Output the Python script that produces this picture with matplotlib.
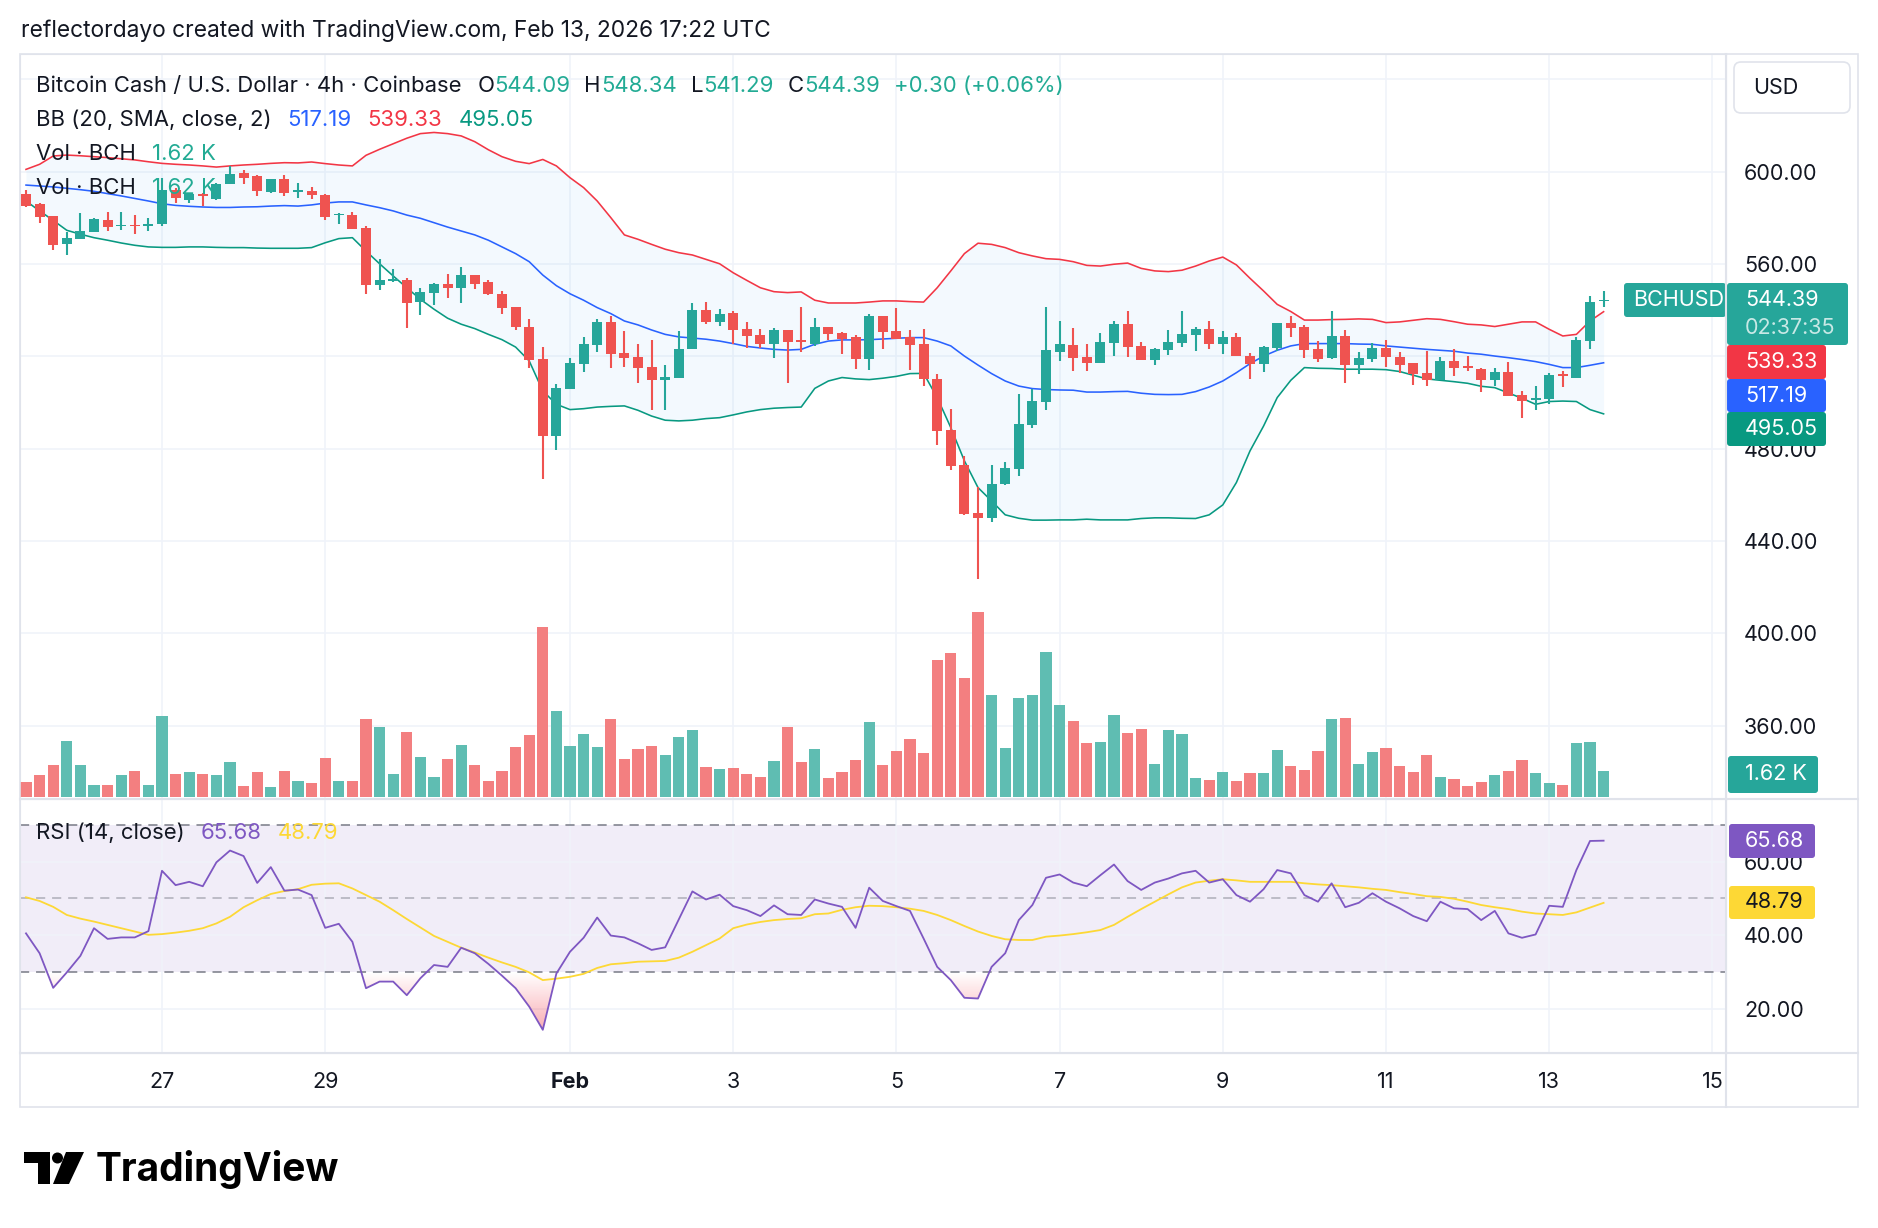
import numpy as np
import matplotlib.pyplot as plt
from matplotlib.patches import FancyBboxPatch, Polygon, Circle, Rectangle
from matplotlib.path import Path
from matplotlib.colors import to_rgb

plt.rcParams['font.family'] = ['Inter', 'DejaVu Sans']

# ---- data (4h candles, Jan 25 08:00 -> Feb 13 16:00) ----
opens = [590.2, 586.1, 580.8, 568.5, 571.0, 574.0, 579.2, 576.5, 577.0, 576.3,
         577.5, 591.9, 587.6, 590.2, 588.0, 594.5, 599.6, 598.1, 591.3, 596.7,
         591.3, 591.6, 589.9, 581.1, 581.2, 575.7, 550.9, 552.6, 552.9, 543.7,
         547.6, 551.5, 549.7, 555.2, 552.2, 547.0, 541.4, 532.7, 518.7, 485.6,
         505.7, 516.8, 525.1, 534.9, 521.4, 519.7, 515.4, 509.6, 510.8, 523.0,
         540.1, 535.0, 538.8, 531.8, 529.1, 525.5, 531.4, 527.1, 525.2, 532.7,
         530.1, 528.4, 519.0, 537.5, 530.8, 528.4, 525.5, 510.3, 488.0, 472.9,
         452.1, 450.1, 464.8, 471.3, 490.2, 500.2, 522.0, 524.9, 519.7, 517.3,
         525.9, 534.0, 524.5, 518.4, 522.7, 525.9, 529.2, 532.0, 525.5, 528.4,
         520.1, 516.8, 523.5, 534.6, 532.7, 523.3, 519.1, 528.8, 516.2, 519.0,
         523.6, 519.7, 517.1, 512.8, 509.6, 518.0, 515.8, 514.4, 509.9, 513.2,
         503.2, 500.9, 501.7, 512.2, 510.8, 526.6, 544.09]
highs = [591.9, 586.4, 580.8, 574.0, 582.1, 579.8, 582.4, 582.4, 581.2, 579.8,
         597.4, 593.1, 590.9, 590.9, 595.2, 602.5, 600.6, 598.4, 597.0, 598.6,
         594.9, 593.4, 590.5, 582.2, 582.5, 576.3, 562.0, 557.8, 554.1, 549.6,
         551.9, 555.7, 558.7, 555.2, 552.9, 548.2, 541.4, 536.0, 524.0, 507.9,
         519.1, 528.4, 536.0, 537.5, 531.0, 525.5, 527.1, 516.2, 531.0, 543.1,
         543.5, 540.5, 539.6, 534.9, 532.0, 532.3, 531.4, 541.5, 536.6, 532.7,
         530.5, 529.2, 538.2, 537.5, 541.1, 531.4, 531.7, 512.2, 497.2, 476.8,
         463.4, 472.9, 474.2, 503.5, 505.7, 541.4, 535.3, 532.1, 525.5, 530.1,
         535.3, 539.6, 526.2, 523.8, 531.4, 539.6, 532.7, 535.3, 531.0, 530.0,
         521.4, 524.5, 534.6, 537.5, 533.6, 526.6, 539.6, 531.4, 521.9, 525.6,
         526.9, 521.9, 517.1, 522.3, 519.7, 523.0, 520.1, 515.1, 515.1, 517.5,
         505.0, 507.1, 512.9, 513.6, 528.4, 546.1, 548.34]
lows = [584.7, 577.9, 566.2, 563.8, 570.7, 574.0, 574.3, 574.6, 573.1, 574.3,
        576.5, 586.6, 586.6, 585.1, 587.6, 594.5, 594.8, 589.5, 590.9, 589.5,
        588.7, 588.3, 579.1, 577.5, 575.3, 547.1, 548.7, 552.3, 532.3, 538.1,
        542.2, 545.4, 543.2, 549.3, 546.6, 538.5, 531.6, 515.1, 467.0, 479.6,
        505.7, 513.4, 522.0, 515.1, 515.4, 508.6, 496.9, 496.9, 510.8, 523.0,
        533.9, 533.3, 525.5, 523.8, 523.5, 519.4, 508.6, 521.9, 524.5, 526.9,
        520.9, 514.7, 513.9, 523.3, 527.7, 513.9, 507.1, 481.6, 470.8, 451.3,
        423.7, 448.4, 464.3, 468.2, 489.1, 496.9, 518.0, 513.6, 513.6, 517.3,
        520.1, 519.7, 518.4, 516.2, 520.6, 524.2, 522.3, 523.0, 521.2, 520.1,
        510.3, 513.4, 522.3, 528.4, 519.4, 517.7, 518.7, 508.6, 512.5, 517.7,
        515.4, 512.9, 507.6, 507.1, 509.6, 511.5, 513.6, 504.7, 507.1, 503.0,
        493.1, 496.6, 499.2, 506.7, 510.8, 523.3, 541.29]
closes = [585.1, 580.4, 568.2, 571.1, 574.3, 579.3, 576.2, 577.0, 576.5, 577.5,
          591.9, 588.4, 590.2, 589.5, 594.8, 598.8, 597.4, 591.6, 596.7, 590.6,
          591.9, 589.9, 580.4, 581.8, 575.3, 550.9, 552.9, 553.6, 543.2, 547.9,
          551.5, 549.7, 555.2, 551.5, 547.1, 541.1, 532.9, 518.6, 485.6, 506.1,
          517.1, 525.3, 534.9, 521.2, 519.4, 515.1, 509.6, 511.0, 523.2, 540.1,
          535.0, 538.3, 531.6, 528.8, 525.5, 531.4, 526.4, 526.4, 532.7, 529.8,
          527.7, 519.0, 537.5, 530.7, 527.7, 524.9, 510.3, 487.7, 472.5, 451.6,
          450.1, 464.5, 471.5, 490.5, 500.6, 522.6, 525.2, 519.4, 517.3, 526.2,
          534.0, 524.0, 518.4, 523.2, 526.2, 529.8, 532.0, 525.5, 528.4, 520.1,
          516.8, 524.0, 534.6, 532.4, 522.7, 518.7, 528.8, 516.2, 519.1, 523.6,
          519.7, 516.2, 512.2, 509.9, 518.0, 515.1, 515.1, 509.9, 513.2, 503.0,
          500.8, 501.8, 511.9, 511.5, 527.1, 543.5, 544.39]
# volume, thousands of BCH
volumes = [0.93, 1.37, 1.99, 3.49, 1.99, 0.75, 0.75, 1.37, 1.62, 0.75,
           5.05, 1.43, 1.56, 1.43, 1.37, 2.18, 0.69, 1.56, 0.62, 1.62,
           1.00, 0.87, 2.43, 1.00, 1.00, 4.86, 4.36, 1.43, 4.05, 2.49,
           1.25, 2.37, 3.24, 1.99, 1.00, 1.62, 3.12, 3.86, 10.59, 5.36,
           3.18, 3.93, 3.12, 4.86, 2.37, 2.99, 3.18, 2.62, 3.74, 4.17,
           1.87, 1.74, 1.81, 1.43, 1.25, 2.24, 4.36, 2.18, 2.99, 1.18,
           1.56, 2.31, 4.67, 1.99, 2.87, 3.61, 2.74, 8.54, 8.97, 7.41,
           11.53, 6.36, 3.05, 6.17, 6.36, 9.03, 5.73, 4.74, 3.36, 3.43,
           5.11, 3.99, 4.24, 2.06, 4.17, 3.93, 1.18, 1.06, 1.56, 1.00,
           1.50, 1.50, 2.93, 1.93, 1.68, 2.87, 4.86, 4.92, 2.06, 2.80,
           3.05, 1.93, 1.56, 2.62, 1.25, 1.12, 0.69, 0.93, 1.37, 1.62,
           2.31, 1.50, 0.87, 0.75, 3.36, 3.43, 1.62]
bb_upper = [601.0, 603.2, 606.8, 607.2, 606.9, 606.5, 606.1, 605.6, 605.1, 604.3,
            603.6, 603.2, 602.9, 602.5, 602.0, 602.5, 602.9, 603.2, 603.6, 603.9,
            603.8, 604.2, 603.5, 602.9, 602.5, 607.1, 609.7, 612.1, 614.5, 616.5,
            617.0, 616.5, 615.5, 613.0, 609.5, 606.5, 604.5, 603.5, 605.3, 602.5,
            597.4, 593.1, 587.3, 580.1, 572.6, 570.7, 568.5, 566.4, 564.9, 563.9,
            562.0, 560.1, 556.2, 552.9, 549.7, 548.0, 547.6, 547.9, 544.3, 543.1,
            543.1, 543.1, 543.5, 544.0, 544.0, 543.7, 543.5, 549.7, 557.0, 564.5,
            569.0, 568.5, 567.1, 564.9, 563.5, 562.3, 562.0, 561.0, 559.4, 559.1,
            559.9, 560.4, 558.1, 557.0, 556.7, 557.3, 559.1, 561.3, 563.0, 559.6,
            553.8, 548.3, 542.5, 539.4, 535.7, 535.7, 535.9, 536.0, 536.2, 536.0,
            534.6, 534.9, 535.6, 536.3, 536.0, 535.0, 533.9, 533.6, 532.9, 533.9,
            534.9, 534.9, 531.7, 528.8, 529.5, 535.3, 539.33]
bb_mid = [594.2, 593.8, 593.4, 592.8, 592.2, 591.5, 590.5, 589.5, 588.4, 587.3,
          586.1, 585.4, 585.0, 584.7, 584.5, 584.5, 584.7, 584.8, 585.1, 585.3,
          585.1, 585.6, 586.4, 586.9, 586.9, 585.6, 584.4, 583.0, 581.2, 579.8,
          577.9, 576.0, 574.3, 572.6, 570.3, 567.4, 564.5, 561.0, 555.2, 550.6,
          547.1, 544.3, 541.1, 538.5, 535.3, 533.6, 531.4, 529.5, 528.4, 527.9,
          527.4, 526.6, 525.5, 524.3, 523.6, 523.0, 522.7, 523.0, 525.2, 526.6,
          527.1, 527.1, 527.2, 527.5, 527.8, 528.1, 528.1, 526.6, 524.5, 520.1,
          516.2, 512.5, 509.3, 507.1, 506.0, 505.6, 505.4, 505.3, 504.5, 504.5,
          504.7, 504.8, 504.0, 503.5, 503.4, 503.5, 504.7, 506.7, 509.3, 512.9,
          516.8, 520.1, 522.6, 524.5, 525.5, 525.5, 525.5, 525.5, 525.3, 525.2,
          524.5, 524.0, 523.5, 523.0, 522.6, 522.2, 521.4, 520.9, 520.1, 519.4,
          518.6, 517.7, 516.5, 515.1, 515.1, 516.1, 517.19]
bb_lower = [587.3, 583.0, 578.9, 574.6, 572.9, 571.4, 570.3, 569.1, 568.1, 567.4,
            567.2, 567.2, 567.4, 567.4, 567.2, 567.1, 567.1, 566.9, 566.8, 566.8,
            566.8, 567.1, 569.2, 571.0, 571.4, 565.6, 560.1, 554.8, 549.7, 544.7,
            540.4, 536.5, 533.9, 532.0, 529.5, 527.2, 524.0, 518.0, 505.0, 499.2,
            496.9, 497.3, 498.0, 498.3, 498.5, 496.6, 494.1, 492.3, 492.0, 492.3,
            493.0, 493.4, 494.6, 495.9, 496.9, 497.5, 497.8, 498.0, 506.1, 509.3,
            510.8, 510.2, 509.9, 510.5, 511.3, 512.5, 512.6, 502.1, 489.1, 474.7,
            463.1, 457.3, 451.3, 449.8, 449.0, 449.0, 449.1, 449.1, 449.4, 449.1,
            449.1, 449.1, 449.7, 450.0, 450.0, 449.8, 449.7, 451.3, 455.6, 465.3,
            479.0, 489.8, 502.1, 509.6, 515.1, 514.8, 514.7, 514.4, 514.4, 514.4,
            514.2, 513.4, 511.8, 510.2, 509.6, 509.0, 508.3, 507.0, 506.4, 504.1,
            501.8, 499.2, 500.4, 500.6, 500.4, 496.9, 495.05]
rsi = [40.5, 35.1, 25.7, 29.9, 34.4, 41.9, 39.0, 39.4, 39.4, 41.1,
       57.5, 53.6, 54.5, 53.3, 59.8, 63.0, 61.5, 54.2, 58.5, 52.1,
       52.4, 50.9, 42.0, 43.1, 38.2, 25.6, 27.4, 27.4, 23.7, 28.3,
       31.9, 31.4, 36.6, 35.1, 32.2, 29.0, 25.6, 20.6, 14.3, 29.6,
       35.5, 39.3, 44.8, 39.9, 39.4, 37.8, 36.0, 36.7, 44.3, 51.9,
       49.7, 51.0, 47.9, 46.8, 45.2, 48.1, 45.7, 45.5, 49.7, 48.6,
       47.7, 42.0, 52.9, 49.3, 47.9, 46.6, 39.1, 31.4, 27.8, 23.0,
       22.8, 31.4, 35.1, 44.1, 48.2, 55.6, 56.5, 54.3, 53.3, 56.3,
       59.2, 54.7, 52.3, 54.3, 55.4, 56.8, 57.5, 54.3, 55.2, 50.9,
       49.1, 52.5, 57.7, 56.8, 50.9, 49.1, 54.1, 47.6, 48.8, 51.4,
       49.1, 47.3, 45.2, 43.8, 49.1, 47.3, 47.1, 44.1, 46.6, 40.5,
       39.3, 40.2, 48.0, 47.7, 57.7, 65.6, 65.68]
rsi_ma = [50.3, 49.3, 47.7, 45.5, 44.5, 43.7, 42.8, 41.9, 41.0, 40.1,
          40.3, 40.7, 41.2, 41.9, 43.2, 45.0, 47.6, 49.5, 51.2, 52.0,
          52.5, 53.7, 54.0, 54.1, 52.7, 50.9, 49.1, 46.8, 44.4, 42.1,
          39.8, 38.2, 36.6, 35.3, 33.9, 32.6, 31.4, 29.9, 27.8, 28.2,
          28.7, 29.5, 31.1, 32.1, 32.4, 32.8, 32.9, 33.0, 33.9, 35.5,
          37.3, 39.1, 41.9, 42.9, 43.6, 44.1, 44.4, 44.6, 45.7, 45.9,
          46.9, 47.6, 48.0, 47.9, 47.6, 47.2, 46.6, 45.5, 44.1, 42.5,
          41.0, 39.8, 38.9, 38.7, 38.7, 39.6, 39.9, 40.3, 40.8, 41.4,
          42.8, 45.0, 47.1, 49.1, 51.1, 53.0, 54.3, 54.8, 55.2, 54.9,
          54.5, 54.5, 54.5, 54.5, 54.1, 53.8, 53.6, 53.3, 53.0, 52.6,
          52.3, 51.7, 51.2, 50.6, 50.4, 49.9, 49.1, 48.2, 47.6, 47.1,
          46.4, 45.9, 45.7, 45.5, 46.2, 47.5, 48.79]
day_pos = [10, 22, 40, 52, 64, 76, 88, 100, 112, 124]
day_labels = ['27', '29', 'Feb', '3', '5', '7', '9', '11', '13', '15']
price_ticks = [360, 400, 440, 480, 520, 560, 600, 640]
rsi_ticks = [20, 40, 60]

W, H = 1878, 1228
DARK = '#131722'
GRID = '#F0F3FA'
BORDER = '#E0E3EB'
UP, DOWN = '#26A69A', '#EF5350'
FS = 15.5     # axis labels
FL = 15.9     # legend lines
FH = 16.4     # header line

o = np.array(opens); c = np.array(closes)
hi = np.array(highs); lo = np.array(lows)
rs = np.array(rsi)
idx = np.arange(len(closes))
up = c >= o

fig = plt.figure(figsize=(W / 100, H / 100), dpi=100)
fig.patch.set_facecolor('white')


def rect(top, bottom, left=20, right=1726):
    return [left / W, 1 - bottom / H, (right - left) / W, (bottom - top) / H]


ax = fig.add_axes(rect(54, 799))
ax_rsi = fig.add_axes(rect(799, 1053), sharex=ax)
ax_vol = ax.twinx()

# price pane
ax.fill_between(idx, bb_upper, bb_lower, color='#2196F3', alpha=0.05, lw=0, zorder=1)
ax.plot(idx, bb_upper, color='#F23645', lw=1.15, zorder=2)
ax.plot(idx, bb_mid, color='#2962FF', lw=1.15, zorder=2)
ax.plot(idx, bb_lower, color='#089981', lw=1.15, zorder=2)
ccol = np.where(up, UP, DOWN)
ax.vlines(idx, lo, hi, colors=ccol, lw=1.5, zorder=3)
ax.bar(idx, np.maximum(np.abs(c - o), 0.5), bottom=np.minimum(o, c), width=0.73,
       color=ccol, zorder=4)
ax.set_ylim(328.15, 651.0)
ax.set_xlim(-0.441, 125.0)
ax.set_yticks(price_ticks)
ax.set_yticklabels(['%.2f' % v if v < 640 else '' for v in price_ticks])
ax.grid(True, color=GRID, lw=1.2)
ax.set_axisbelow(True)

# volume overlay
vcol = np.where(up, '#5FBDB2', '#F37F80')
ax_vol.bar(idx, volumes, width=0.82, color=vcol, zorder=1)
ax_vol.set_ylim(-0.125, 46.32)
ax_vol.set_yticks([])
for s in ax_vol.spines.values():
    s.set_visible(False)

ax.yaxis.tick_right()
ax.tick_params(axis='y', length=0, pad=13, labelsize=FS, labelcolor=DARK)
ax.set_xticks(day_pos)
ax.tick_params(axis='x', length=0, labelbottom=False)
for s in ax.spines.values():
    s.set_color(BORDER)

# RSI pane
ax_rsi.axhspan(30, 70, color='#7E57C2', alpha=0.1, lw=0, zorder=0)
for lvl, a in [(70, 1.0), (50, 0.55), (30, 1.0)]:
    ax_rsi.axhline(lvl, color='#787B86', alpha=a, lw=1.1, dashes=(6, 4.5), zorder=1)
fb = ax_rsi.fill_between(idx, rs, 30, where=rs < 30, interpolate=True,
                         color='none', lw=0)
clip = Path.make_compound_path(*fb.get_paths())
n = 256
grad = np.zeros((n, 1, 4))
grad[..., :3] = to_rgb('#F23645')
rr = 30 - 22 * np.arange(n) / (n - 1)
grad[:, 0, 3] = np.clip((30 - rr) / 16 * 0.42, 0, 0.5)
im = ax_rsi.imshow(grad, extent=(-1, 126, 8, 30), aspect='auto', origin='upper',
                   zorder=2, interpolation='bilinear')
im.set_clip_path(clip, ax_rsi.transData)
ax_rsi.plot(idx, rsi_ma, color='#FDD835', lw=1.3, zorder=3)
ax_rsi.plot(idx, rsi, color='#7E57C2', lw=1.3, zorder=4)
ax_rsi.set_ylim(8.0, 77.0)
ax_rsi.set_xlim(-0.441, 125.0)
ax_rsi.set_yticks(rsi_ticks)
ax_rsi.set_yticklabels(['%.2f' % v for v in rsi_ticks])
ax_rsi.yaxis.tick_right()
ax_rsi.tick_params(axis='y', length=0, pad=13, labelsize=FS, labelcolor=DARK)
ax_rsi.set_xticks(day_pos)
ax_rsi.set_xticklabels(day_labels)
ax_rsi.tick_params(axis='x', length=0, pad=14, labelsize=FS, labelcolor=DARK)
ax_rsi.get_xticklabels()[2].set_fontweight('bold')
ax_rsi.grid(True, color=GRID, lw=1.2)
ax_rsi.set_axisbelow(True)
for s in ax_rsi.spines.values():
    s.set_color(BORDER)

# overlay in pixel coordinates
ax_o = fig.add_axes([0, 0, 1, 1])
ax_o.set_xlim(0, W)
ax_o.set_ylim(H, 0)
ax_o.axis('off')
ax_o.set_zorder(10)

ax_o.add_patch(Rectangle((20, 54), 1838, 1053, fill=False, ec=BORDER, lw=1.2))
ax_o.plot([1726, 1726], [54, 1107], color=BORDER, lw=1.5)
ax_o.plot([20, 1858], [799, 799], color=BORDER, lw=1.5)
ax_o.plot([20, 1858], [1053, 1053], color=BORDER, lw=1.5)

r = fig.canvas.get_renderer()


def chain(x, y, parts, size=FL):
    for s, col, gap in parts:
        x += gap
        t = ax_o.text(x, y, s, color=col, fontsize=size, va='baseline', ha='left')
        x += t.get_window_extent(r).width


G = '#22AB94'
chain(21, 37.5, [('reflectordayo created with TradingView.com, Feb 13, 2026 17:22 UTC', DARK, 0)],
      size=FH)
chain(36, 92, [('Bitcoin Cash / U.S. Dollar · 4h · Coinbase', DARK, 0),
               ('O', DARK, 16), ('544.09', G, 0), ('H', DARK, 14), ('548.34', G, 0),
               ('L', DARK, 14), ('541.29', G, 0), ('C', DARK, 14), ('544.39', G, 0),
               ('+0.30 (+0.06%)', G, 14)])
chain(36, 126, [('BB (20, SMA, close, 2)', DARK, 0), ('517.19', '#2962FF', 16),
                ('539.33', '#F23645', 16), ('495.05', '#089981', 16)])
chain(36, 160, [('Vol · BCH', DARK, 0), ('1.62 K', G, 16)])
chain(36, 194, [('Vol · BCH', DARK, 0), ('1.62 K', G, 16)])
chain(36, 839, [('RSI (14, close)', DARK, 0), ('65.68', '#7E57C2', 16),
                ('48.79', '#FDD835', 16)])


def box(x0, y0, x1, y1, fc, ec='none', rs=3):
    ax_o.add_patch(FancyBboxPatch((x0, y0), x1 - x0, y1 - y0,
                                  boxstyle='round,pad=0,rounding_size=%d' % rs,
                                  fc=fc, ec=ec, lw=1.2))


box(1734, 62, 1850, 113, 'white', BORDER, 7)
ax_o.text(1753, 88, 'USD', fontsize=FS, color=DARK, va='center', ha='left')
box(1624, 283, 1726, 317, '#26A69A')
ax_o.text(1633, 300, 'BCHUSD', fontsize=FS, color='white', va='center', ha='left')
box(1727, 283, 1848, 345, '#26A69A')
ax_o.text(1745, 300, '544.39', fontsize=FS, color='white', va='center', ha='left')
ax_o.text(1745, 328, '02:37:35', fontsize=FS, color='white', alpha=0.75,
          va='center', ha='left')
for y0, y1, fc, s in [(345, 379, '#F23645', '539.33'), (379, 412, '#2962FF', '517.19'),
                      (412, 446, '#089981', '495.05')]:
    box(1727, y0, 1826, y1, fc)
    ax_o.text(1745, (y0 + y1) / 2, s, fontsize=FS, color='white', va='center', ha='left')
box(1728, 756, 1818, 793, '#26A69A')
ax_o.text(1745, 774.5, '1.62 K', fontsize=FS, color='white', va='center', ha='left')
box(1729, 824, 1815, 858, '#7E57C2')
ax_o.text(1745, 841, '65.68', fontsize=FS, color='white', va='center', ha='left')
box(1729, 886, 1815, 919, '#FDD835')
ax_o.text(1745, 902.5, '48.79', fontsize=FS, color=DARK, va='center', ha='left')

# TradingView footer logo
ax_o.add_patch(Polygon([(24, 1152), (50, 1152), (50, 1184), (38, 1184), (38, 1163), (24, 1163)],
                       closed=True, fc='black', ec='none'))
ax_o.add_patch(Circle((57.5, 1158), 5.5, fc='black', ec='none'))
ax_o.add_patch(Polygon([(66, 1152), (84, 1152), (69, 1184), (53, 1184)],
                       closed=True, fc='black', ec='none'))
ax_o.text(96, 1181, 'TradingView', fontsize=28, fontweight='bold', color='black',
          va='baseline', ha='left')

fig.savefig('out.png', dpi=100, facecolor='white')
